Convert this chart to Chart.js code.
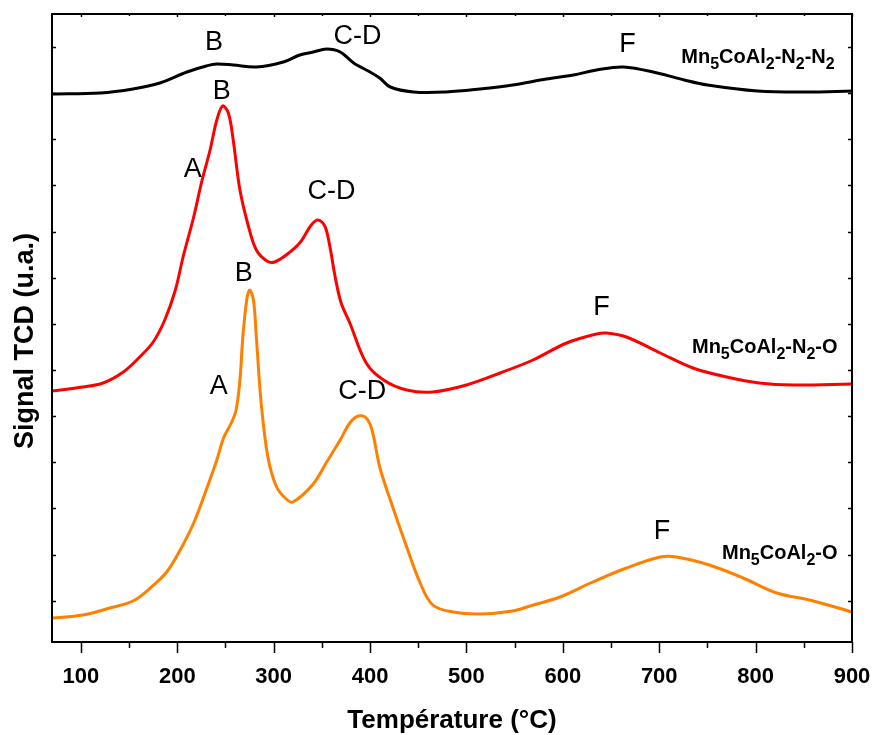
<!DOCTYPE html>
<html><head><meta charset="utf-8">
<script src="https://cdn.jsdelivr.net/npm/chart.js@4.4.0/dist/chart.umd.min.js"></script>
<style>html,body{margin:0;padding:0;background:#fff;} #wrap{width:874px;height:735px;}</style>
</head><body><div id="wrap"><canvas id="c" width="874" height="735"></canvas></div>
<script>
// ---- Data (temperature in °C, TCD signal in arbitrary units) ----
const TEMP_O = [70, 102, 130, 154, 172, 189, 203, 217, 230, 241, 248, 256, 261, 265, 268, 272, 275, 279, 282, 287, 294, 303, 313, 320, 341, 355, 369, 379, 388, 396, 402, 410, 421, 438, 452, 465, 486, 514, 548, 566, 597, 631, 666, 701, 718, 752, 787, 822, 856, 900];
const SIG_O  = [2.4, 2.7, 3.4, 4.1, 5.4, 7.0, 9.2, 11.9, 15.2, 18.2, 20.4, 21.9, 23.2, 26.2, 30.5, 34.2, 35.2, 34.2, 30.5, 23.9, 18.5, 15.5, 14.3, 14.0, 15.8, 18.0, 20.2, 21.9, 22.6, 22.4, 21.2, 17.5, 14.2, 9.5, 5.9, 3.7, 3.0, 2.8, 3.1, 3.6, 4.5, 6.0, 7.4, 8.5, 8.5, 7.7, 6.4, 4.9, 4.2, 3.0];

const TEMP_N2O = [70, 102, 123, 144, 161, 175, 187, 198, 206, 217, 225, 234, 241, 247, 253, 258, 265, 274, 282, 293, 301, 313, 327, 339, 346, 353, 358, 364, 370, 379, 396, 414, 438, 465, 500, 535, 569, 604, 635, 645, 666, 701, 735, 770, 804, 839, 900];
const SIG_N2O  = [25.1, 25.5, 25.9, 27.0, 28.5, 30.0, 32.2, 35.2, 38.5, 42.5, 45.9, 49.2, 52.2, 53.6, 52.9, 50.2, 45.2, 41.5, 39.2, 38.1, 38.0, 38.7, 39.9, 41.7, 42.2, 41.6, 39.7, 36.4, 33.9, 31.9, 27.9, 26.2, 25.2, 25.0, 25.7, 26.9, 28.2, 29.9, 30.8, 30.9, 30.5, 28.9, 27.4, 26.5, 25.9, 25.7, 25.8];

const TEMP_N2N2 = [70, 120, 154, 182, 210, 230, 241, 258, 282, 310, 327, 341, 355, 369, 383, 400, 410, 421, 445, 479, 514, 548, 583, 611, 635, 663, 698, 726, 750, 802, 853, 900];
const SIG_N2N2  = [54.8, 54.9, 55.3, 55.9, 57.0, 57.6, 57.8, 57.7, 57.5, 58.0, 58.7, 59.0, 59.3, 59.0, 57.9, 57.0, 56.4, 55.5, 55.0, 55.0, 55.3, 55.7, 56.3, 56.7, 57.2, 57.5, 56.9, 56.2, 55.7, 55.1, 55.0, 55.1];

const X_TICKS = [100, 200, 300, 400, 500, 600, 700, 800, 900];
const X_MINOR = [150, 250, 350, 450, 550, 650, 750, 850];
const X_LABEL = 'Température (°C)';
const Y_LABEL = 'Signal TCD (u.a.)';

// peak annotations (text, temperature, signal)
const PEAK_TEXT = ['B', 'C-D', 'F', 'B', 'A', 'C-D', 'F', 'B', 'A', 'C-D', 'F'];
const PEAK_T    = [238, 387, 667, 246, 216, 360, 640, 269, 243, 392, 703];
const PEAK_S    = [60.2, 60.75, 60.0, 55.25, 47.5, 45.3, 33.7, 37.05, 25.8, 25.25, 11.25];

// series names: segments [text, isSubscript]
const NAME_N2N2 = [['Mn',0],['5',1],['CoAl',0],['2',1],['-N',0],['2',1],['-N',0],['2',1]];
const NAME_N2O  = [['Mn',0],['5',1],['CoAl',0],['2',1],['-N',0],['2',1],['-O',0]];
const NAME_O    = [['Mn',0],['5',1],['CoAl',0],['2',1],['-O',0]];
const NAME_T    = [882, 885, 885];
const NAME_S    = [57.87, 28.9, 8.27];

const FONT = '"Liberation Sans", Arial, Helvetica, sans-serif';

function pts(xs, ys) { return xs.map((x, i) => ({x: x, y: ys[i]})); }

const overlay = {
  id: 'overlay',
  afterDraw(chart) {
    const {ctx, chartArea: a, scales: {x, y}} = chart;
    ctx.save();
    // frame
    ctx.strokeStyle = '#000';
    ctx.lineWidth = 2;
    ctx.strokeRect(a.left, a.top, a.right - a.left, a.bottom - a.top);
    // ticks
    ctx.lineWidth = 1.5;
    ctx.beginPath();
    X_TICKS.forEach(v => {
      const px = Math.round(x.getPixelForValue(v)) + 0.5;
      ctx.moveTo(px, a.bottom); ctx.lineTo(px, a.bottom + 11);
      ctx.moveTo(px, a.top); ctx.lineTo(px, a.top + 3);
    });
    X_MINOR.forEach(v => {
      const px = Math.round(x.getPixelForValue(v)) + 0.5;
      ctx.moveTo(px, a.bottom); ctx.lineTo(px, a.bottom + 6);
      ctx.moveTo(px, a.top); ctx.lineTo(px, a.top + 2);
    });
    for (let v = 4.13; v < 62; v += 4.614) {
      const py = Math.round(y.getPixelForValue(v)) + 0.5;
      ctx.moveTo(a.left, py); ctx.lineTo(a.left + 4, py);
      ctx.moveTo(a.right, py); ctx.lineTo(a.right - 4, py);
    }
    ctx.stroke();

    // peak labels
    ctx.fillStyle = '#000';
    ctx.font = '27px ' + FONT;
    ctx.textAlign = 'center';
    ctx.textBaseline = 'alphabetic';
    PEAK_TEXT.forEach((t, i) => {
      const px = x.getPixelForValue(PEAK_T[i]);
      const py = y.getPixelForValue(PEAK_S[i]);
      ctx.fillText(t, px, py + 0.358 * 27);
    });

    // series names
    const mainF = 'bold 20px ' + FONT, subF = 'bold 16px ' + FONT;
    [NAME_N2N2, NAME_N2O, NAME_O].forEach((segs, i) => {
      let w = 0;
      segs.forEach(s => { ctx.font = s[1] ? subF : mainF; w += ctx.measureText(s[0]).width; });
      let cx = x.getPixelForValue(NAME_T[i]) - w;
      const by = y.getPixelForValue(NAME_S[i]);
      ctx.textAlign = 'left';
      segs.forEach(s => {
        ctx.font = s[1] ? subF : mainF;
        ctx.fillText(s[0], cx, s[1] ? by + 6 : by);
        cx += ctx.measureText(s[0]).width;
      });
    });

    // axis titles
    ctx.font = 'bold 26px ' + FONT;
    ctx.textAlign = 'center';
    ctx.fillText(X_LABEL, (a.left + a.right) / 2, 728);
    ctx.translate(32.5, 341);
    ctx.rotate(-Math.PI / 2);
    ctx.font = 'bold 27px ' + FONT;
    ctx.fillText(Y_LABEL, 0, 0);
    ctx.restore();
  }
};

new Chart(document.getElementById('c'), {
  type: 'line',
  data: {
    datasets: [
      {label: 'Mn5CoAl2-O', data: pts(TEMP_O, SIG_O), borderColor: '#ff8000'},
      {label: 'Mn5CoAl2-N2-O', data: pts(TEMP_N2O, SIG_N2O), borderColor: '#ff0000'},
      {label: 'Mn5CoAl2-N2-N2', data: pts(TEMP_N2N2, SIG_N2N2), borderColor: '#000000'}
    ]
  },
  options: {
    responsive: false,
    animation: false,
    devicePixelRatio: 1,
    layout: {padding: {top: 14, right: 22, left: 0, bottom: 0}},
    elements: {
      point: {radius: 0},
      line: {borderWidth: 3, tension: 0.35, fill: false, capBezierPoints: true}
    },
    plugins: {legend: {display: false}, tooltip: {enabled: false}},
    scales: {
      x: {
        type: 'linear', min: 70, max: 900,
        afterBuildTicks: s => { s.ticks = X_TICKS.map(v => ({value: v})); },
        afterFit: s => { s.height = 93; s.paddingLeft = 0; s.paddingRight = 0; },
        grid: {display: false, drawTicks: false},
        border: {display: false},
        ticks: {color: '#000', font: {family: FONT, size: 22, weight: 'bold'}, padding: 22, autoSkip: false, maxRotation: 0, callback: v => String(v)}
      },
      y: {
        type: 'linear', min: 0, max: 62.8,
        afterFit: s => { s.width = 52; s.paddingTop = 0; s.paddingBottom = 0; },
        grid: {display: false, drawTicks: false},
        border: {display: false},
        ticks: {display: false}
      }
    }
  },
  plugins: [overlay]
});
</script></body></html>
